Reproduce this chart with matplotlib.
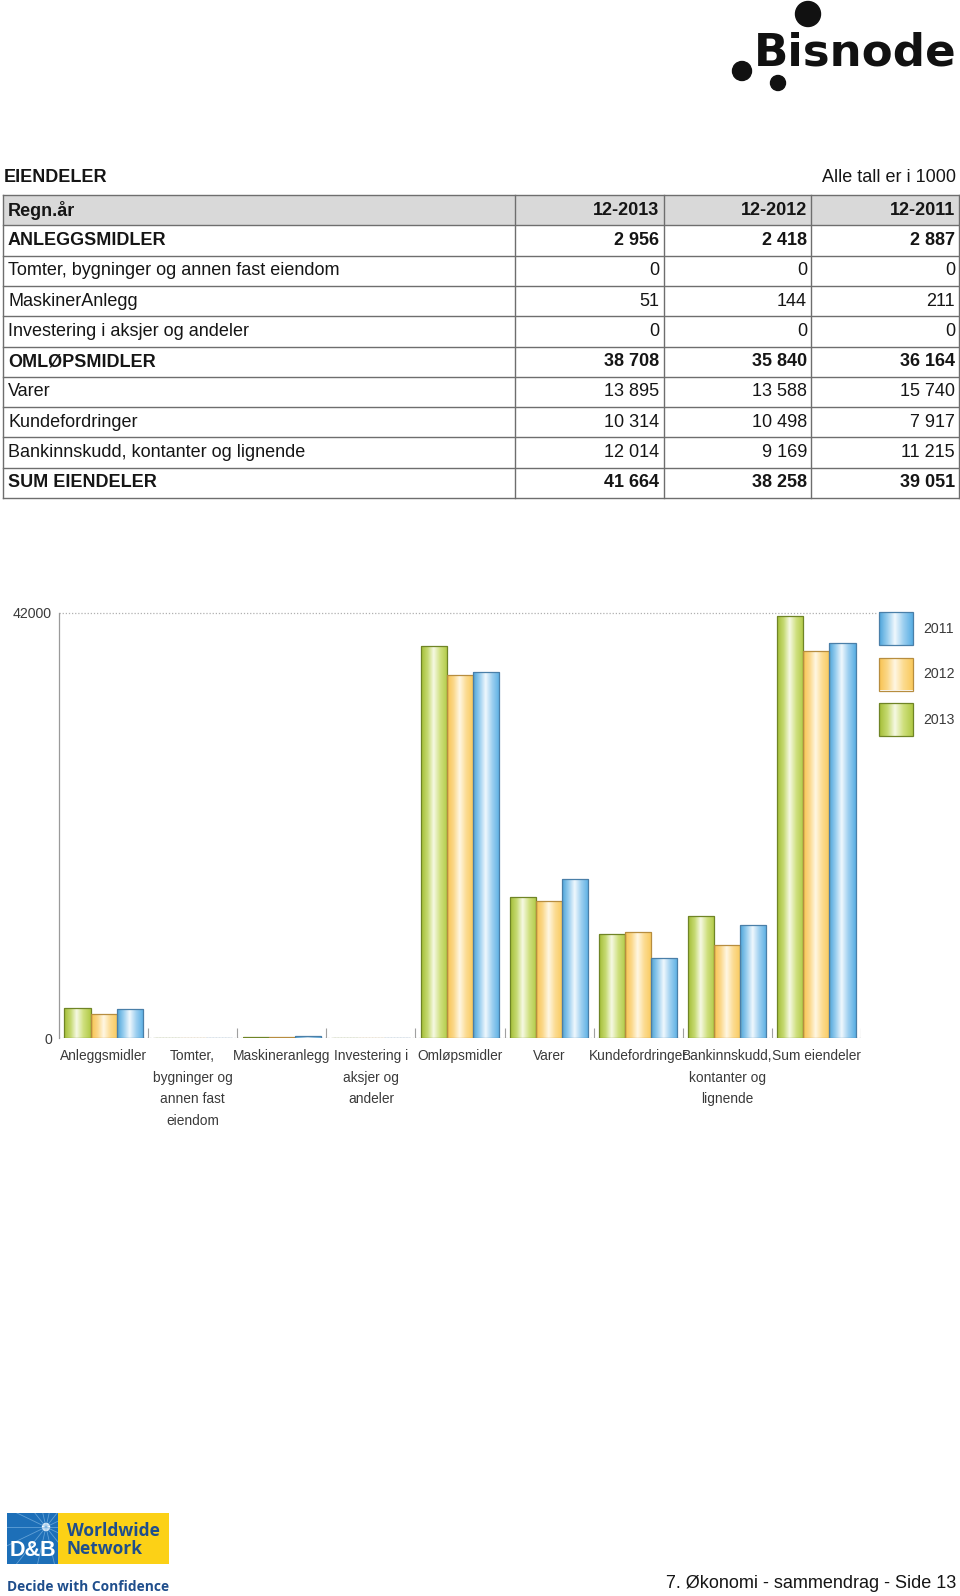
import matplotlib
matplotlib.use("Agg")
import matplotlib.pyplot as plt
import numpy as np
from matplotlib.colors import LinearSegmentedColormap
from matplotlib.patches import Rectangle, Circle

plt.rcParams['font.family'] = ['Liberation Sans', 'DejaVu Sans']

# ---- data ----
row_labels = ["Regn.år", "ANLEGGSMIDLER", "Tomter, bygninger og annen fast eiendom",
              "MaskinerAnlegg", "Investering i aksjer og andeler", "OMLØPSMIDLER",
              "Varer", "Kundefordringer", "Bankinnskudd, kontanter og lignende",
              "SUM EIENDELER"]
bold_rows = [0, 1, 5, 9]
col_heads = ["12-2013", "12-2012", "12-2011"]
vals_2013 = [2956, 0, 51, 0, 38708, 13895, 10314, 12014, 41664]
vals_2012 = [2418, 0, 144, 0, 35840, 13588, 10498, 9169, 38258]
vals_2011 = [2887, 0, 211, 0, 36164, 15740, 7917, 11215, 39051]
categories = ["Anleggsmidler", "Tomter,\nbygninger og\nannen fast\neiendom", "Maskineranlegg",
              "Investering i\naksjer og\nandeler", "Omløpsmidler", "Varer", "Kundefordringer",
              "Bankinnskudd,\nkontanter og\nlignende", "Sum eiendeler"]
legend_years = ["2011", "2012", "2013"]
y_ticks = [0, 42000]

TXT = '#151515'
GREY = '#3a3a3a'

cm_green = LinearSegmentedColormap.from_list('g', [(0, '#a3bd35'), (0.25, '#c6da72'), (0.47, '#f6f9e4'),
                                                   (0.72, '#cfe07e'), (1, '#b0c945')])
cm_orange = LinearSegmentedColormap.from_list('o', [(0, '#f8c24f'), (0.25, '#fbd88a'), (0.47, '#fff7e4'),
                                                    (0.72, '#fcdb90'), (1, '#f9c95c')])
cm_blue = LinearSegmentedColormap.from_list('b', [(0, '#4aa3da'), (0.25, '#9bcfef'), (0.47, '#f0f8fd'),
                                                  (0.72, '#9ccff0'), (1, '#58aee3')])
grad = np.linspace(0, 1, 256).reshape(1, -1)


def fmt(v):
    return f"{v:,}".replace(",", " ")


fig = plt.figure(figsize=(9.6, 15.96), dpi=100)

# overlay in pixel coordinates
ov = fig.add_axes([0, 0, 1, 1])
ov.set_xlim(0, 960)
ov.set_ylim(1596, 0)
ov.axis('off')

# Bisnode logo
ov.text(957, 65, "Bisnode", ha='right', va='baseline', fontsize=32.5, fontweight='bold', color='#111111',
        family='DejaVu Sans')
for cx, cy, r in [(808, 14, 12.5), (742, 71, 9.5), (778, 83, 7.5)]:
    ov.add_patch(Circle((cx, cy), r, color='#111111'))

# headings
ov.text(4, 177, "EIENDELER", ha='left', va='center', fontsize=13, fontweight='bold', color=TXT)
ov.text(956, 177, "Alle tall er i 1000", ha='right', va='center', fontsize=13, color=TXT)

# table
t_top, row_h = 195, 30.3
col_x = [3, 515, 664, 811, 959]
num_x = [659, 807, 955]
ov.add_patch(Rectangle((col_x[0], t_top), col_x[-1] - col_x[0], row_h, facecolor='#d9d9d9',
                       edgecolor='none', zorder=1))
for i in range(len(row_labels) + 1):
    y = t_top + i * row_h
    ov.plot([col_x[0], col_x[-1]], [y, y], color='#6e6e6e', lw=1.0, zorder=2)
for x in col_x:
    ov.plot([x, x], [t_top, t_top + row_h * len(row_labels)], color='#6e6e6e', lw=1.0, zorder=2)

for i, lab in enumerate(row_labels):
    yc = t_top + row_h * (i + 0.5)
    w = 'bold' if i in bold_rows else 'normal'
    ov.text(8, yc, lab, ha='left', va='center', fontsize=13, fontweight=w, color=TXT, zorder=3)
    for k, xr in enumerate(num_x):
        if i == 0:
            s = col_heads[k]
        else:
            s = fmt([vals_2013, vals_2012, vals_2011][k][i - 1])
        ov.text(xr, yc, s, ha='right', va='center', fontsize=13, fontweight=w, color=TXT, zorder=3)

# legend
leg_cmaps = [cm_blue, cm_orange, cm_green]
leg_edges = ['#4a7fa8', '#b78d3f', '#6f8426']
for k, (yr, cm, ec) in enumerate(zip(legend_years, leg_cmaps, leg_edges)):
    y0 = 612 + k * 45.5
    rect = Rectangle((879, y0), 34, 33, facecolor='none', edgecolor=ec, lw=0.9, zorder=4)
    ov.add_patch(rect)
    im = ov.imshow(grad, cmap=cm, extent=[879, 913, y0 + 33, y0], aspect='auto', zorder=3,
                   interpolation='bilinear')
    im.set_clip_path(rect)
    ov.text(923, y0 + 17, yr, ha='left', va='center', fontsize=10.2, color=GREY)

# D&B logo
ov.add_patch(Rectangle((7, 1513), 51, 51, facecolor='#1d6fb8', edgecolor='none'))
ov.add_patch(Rectangle((58, 1513), 111, 51, facecolor='#fcd116', edgecolor='none'))
for ang in np.linspace(0, 2 * np.pi, 14, endpoint=False):
    ln, = ov.plot([46, 46 + 60 * np.cos(ang)], [1527, 1527 + 60 * np.sin(ang)], color='#7fb6e3',
                  lw=0.6, alpha=0.7)
    ln.set_clip_path(Rectangle((7, 1513), 51, 51, transform=ov.transData))
ov.add_patch(Circle((46, 1527), 3.5, color='white'))
ov.text(33, 1551, "D&B", ha='center', va='center', fontsize=15.5, fontweight='bold', color='white')
ov.text(67, 1531, "Worldwide", ha='left', va='center', fontsize=12.5, fontweight='bold', color='#1f4e8c',
        family=['Open Sans', 'DejaVu Sans'])
ov.text(67, 1549, "Network", ha='left', va='center', fontsize=12.5, fontweight='bold', color='#1f4e8c',
        family=['Open Sans', 'DejaVu Sans'])
ov.text(7, 1587, "Decide with Confidence", ha='left', va='center', fontsize=9.9, fontweight='bold',
        color='#1f4e8c', family=['Open Sans', 'DejaVu Sans'])

# footer
ov.text(956, 1583, "7. Økonomi - sammendrag - Side 13", ha='right', va='center', fontsize=13, color=TXT)

# ---- chart ----
ax = fig.add_axes([59 / 960, 1 - 1038 / 1596, (861 - 59) / 960, (1038 - 613) / 1596])
ax.patch.set_visible(False)
idx = np.arange(len(categories))
bw = 0.293
series = [(vals_2013, cm_green, '#6f8426'), (vals_2012, cm_orange, '#b78d3f'), (vals_2011, cm_blue, '#4a7fa8')]
for j, (vals, cm, ec) in enumerate(series):
    bars = ax.bar(idx + (j - 1) * bw, vals, bw, facecolor='none', edgecolor=ec, lw=0.9, zorder=4)
    for b in bars:
        if b.get_height() <= 0:
            continue
        x0 = b.get_x()
        im = ax.imshow(grad, cmap=cm, extent=[x0, x0 + bw, 0, b.get_height()], aspect='auto',
                       zorder=3, interpolation='bilinear')
        im.set_clip_path(b)

ax.set_xlim(-0.5, 8.5)
ax.set_ylim(0, 42000)
for s in ['top', 'right', 'bottom']:
    ax.spines[s].set_visible(False)
ax.spines['left'].set_color('#9a9a9a')
ax.spines['left'].set_linewidth(0.9)
ax.plot([-0.5, 8.5], [0, 0], ls=(0, (1, 1.5)), color='#9a9a9a', lw=0.9, zorder=2)
ax.plot([-0.5, 8.68], [42000, 42000], ls=(0, (1, 1.5)), color='#b0b0b0', lw=0.9, clip_on=False)
ax.vlines(np.arange(0.5, 9, 1), 0, 1000, colors='#a0a0a0', lw=0.8)

ax.set_yticks(y_ticks, [str(v) for v in y_ticks])
ax.set_xticks(idx, categories, linespacing=1.68, va='top')
ax.tick_params(axis='x', length=0, pad=8, labelsize=9.9, labelcolor=GREY)
ax.tick_params(axis='y', length=0, pad=5, labelsize=10.2, labelcolor=GREY)

fig.savefig("out.png", dpi=100)
